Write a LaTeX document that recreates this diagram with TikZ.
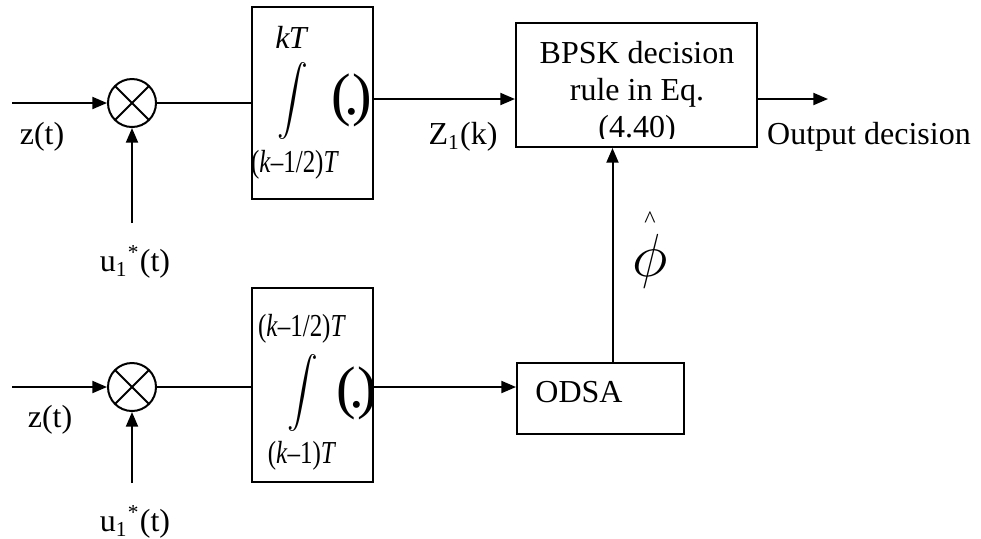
\documentclass[tikz,border=0pt]{standalone}
\usepackage{fontspec}
\setmainfont{Liberation Serif}
\usepackage{graphicx}
\usetikzlibrary{arrows.meta}

\begin{document}
\begin{tikzpicture}[x=0.375pt, y=-0.375pt,
        font=\fontsize{12}{14}\selectfont, line width=0.75pt,
        arr/.style={-{Triangle[length=5.5pt,width=4.5pt]}},
        mult/.style={draw, circle, minimum size=18pt, inner sep=0pt,
            path picture={\draw (path picture bounding box.north west) -- (path picture bounding box.south east)
                (path picture bounding box.north east) -- (path picture bounding box.south west);}},
        block/.style={draw, inner sep=0pt},
        intbox/.style={block, minimum width=45.4pt, minimum height=72pt},
        bigpar/.style={font=\fontsize{22}{26}\selectfont},
        limtxt/.style={inner sep=0pt}]
        \useasboundingbox (0,0) rectangle (981,538);

        % Upper branch
        \coordinate (in1) at (12,103);
        \node[mult] (m1) at (132,103) {};
        \coordinate (u1) at (132,223);
        \node (z1lab) at (42,137) {z(t)};
        \node (u1lab) at (135,262) {u\textsubscript{1}\textsuperscript{*}(t)};

        \node[intbox] (int1) at (312.5,103) {};
        \node[limtxt] (int1up) at (292,37) {\textit{k}\kern-0.5pt\textit{T}};
        \node[limtxt] (int1sign) at (293,101) {\scalebox{1.15}[1.3]{$\displaystyle\int$}};
        \node[limtxt, bigpar] (int1arg) at (352,100) {(\kern-2.5pt.\kern-2.5pt)};
        \node[limtxt] (int1lo) at (295,165) {\scalebox{0.78}[1]{(\textit{k}--1/2)\textit{T}}};

        % Lower branch
        \coordinate (in2) at (12,387);
        \node[mult] (m2) at (132,387) {};
        \coordinate (u2) at (132,483);
        \node (z2lab) at (50,420) {z(t)};
        \node (u2lab) at (135,522) {u\textsubscript{1}\textsuperscript{*}(t)};

        \node[intbox, minimum height=72.75pt] (int2) at (312.5,385) {};
        \node[limtxt] (int2up) at (302,329) {\scalebox{0.78}[1]{(\textit{k}--1/2)\textit{T}}};
        \node[limtxt] (int2sign) at (303,393) {\scalebox{1.15}[1.3]{$\displaystyle\int$}};
        \node[limtxt, bigpar] (int2arg) at (357,393) {(\kern-2.5pt.\kern-2.5pt)};
        \node[limtxt] (int2lo) at (302,456) {\scalebox{0.78}[1]{(\textit{k}--1)\textit{T}}};

        % Decision and ODSA blocks
        \node[block, minimum width=90.4pt, minimum height=46.5pt] (bpsk) at (636.5,85) {};
        \begin{scope}
            \clip (bpsk.north west) rectangle ([yshift=3.75pt]bpsk.south east);
            \node[align=center, font=\fontsize{12}{13.9}\selectfont] (bpsktxt) at (637,93) {BPSK decision\\rule in Eq.\\(4.40)};
        \end{scope}
        \node[block, minimum width=62.6pt, minimum height=26.6pt] (odsa) at (600.5,398.5) {};
        \node (odsatxt) at (579,392) {ODSA};
        \coordinate (out) at (828,99);

        % Connectors
        \draw[arr] (in1) -- (m1);
        \draw[arr] (u1) -- (m1);
        \draw (m1) -- (m1 -| int1.west);
        \draw[arr] (int1.east |- out) -- (bpsk.west |- out);
        \draw[arr] (bpsk.east |- out) -- (out);
        \draw[arr] (in2) -- (m2);
        \draw[arr] (u2) -- (m2);
        \draw (m2) -- (m2 -| int2.west);
        \draw[arr] (int2.east |- m2) -- (odsa.west |- m2);
        \draw[arr] ([xshift=4.5pt]odsa.north) -- ([xshift=4.5pt]odsa.north |- bpsk.south);

        % Labels
        \node (zk) at (463,137) {Z\textsubscript{1}(k)};
        \node (outlab) at (869,137) {Output decision};
        \node (phihat) at (650,250) {\shortstack{{\fontsize{9}{9}\selectfont\textasciicircum}\\[-0.6pt]\scalebox{1.9}{$\phi$}}};
    \end{tikzpicture}
\end{document}
